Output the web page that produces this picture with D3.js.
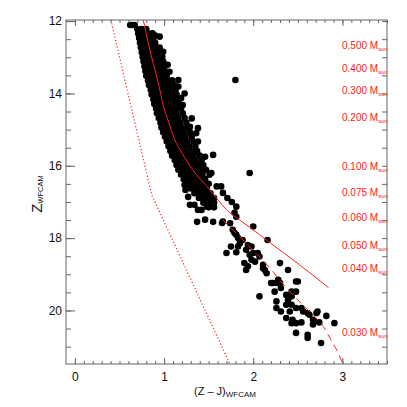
<!DOCTYPE html>
<html>
<head>
<meta charset="utf-8">
<script src="https://cdn.jsdelivr.net/npm/d3@7"></script>
<style>
body { margin: 0; background: #fff; }
svg { display: block; font-family: "Liberation Sans", Arial, sans-serif; }
</style>
</head>
<body>
<svg id="chart" width="407" height="407"></svg>
<script>
// dense part of the sequence, one row per Z: [Z, [Z-J ...]]
var bandRows = [
    [12.22, [0.70, 0.75, 0.80]],
    [12.34, [0.71, 0.76, 0.82, 0.87]],
    [12.47, [0.72, 0.78, 0.83, 0.88]],
    [12.60, [0.73, 0.79, 0.84, 0.90]],
    [12.73, [0.74, 0.80, 0.85, 0.91, 0.95]],
    [12.86, [0.75, 0.81, 0.86, 0.92]],
    [12.99, [0.76, 0.82, 0.87, 0.93, 0.98]],
    [13.12, [0.77, 0.83, 0.88, 0.94, 0.99]],
    [13.25, [0.78, 0.84, 0.89, 0.95, 1.00]],
    [13.38, [0.79, 0.85, 0.90, 0.96, 1.01]],
    [13.51, [0.80, 0.86, 0.91, 0.97, 1.03]],
    [13.64, [0.82, 0.87, 0.93, 0.98, 1.04, 1.09]],
    [13.77, [0.83, 0.89, 0.94, 1.00, 1.05, 1.11]],
    [13.90, [0.85, 0.90, 0.96, 1.01, 1.07, 1.13]],
    [14.03, [0.86, 0.92, 0.97, 1.03, 1.08, 1.14]],
    [14.16, [0.88, 0.93, 0.99, 1.04, 1.10, 1.15]],
    [14.29, [0.89, 0.95, 1.00, 1.06, 1.11, 1.17]],
    [14.42, [0.91, 0.96, 1.02, 1.07, 1.13, 1.19]],
    [14.55, [0.92, 0.98, 1.03, 1.09, 1.14, 1.21]],
    [14.68, [0.94, 0.99, 1.05, 1.10, 1.16, 1.23]],
    [14.81, [0.96, 1.01, 1.07, 1.12, 1.18, 1.25]],
    [14.94, [0.97, 1.03, 1.08, 1.14, 1.20, 1.27]],
    [15.07, [0.99, 1.05, 1.10, 1.16, 1.22, 1.29]],
    [15.20, [1.01, 1.06, 1.12, 1.18, 1.24, 1.31]],
    [15.33, [1.03, 1.08, 1.14, 1.20, 1.26, 1.33]],
    [15.46, [1.05, 1.10, 1.16, 1.22, 1.28, 1.35]],
    [15.59, [1.07, 1.12, 1.18, 1.24, 1.30, 1.37]],
    [15.72, [1.09, 1.15, 1.21, 1.27, 1.33, 1.40]],
    [15.85, [1.12, 1.17, 1.23, 1.29, 1.35, 1.42]],
    [15.98, [1.14, 1.20, 1.26, 1.32, 1.38, 1.44]],
    [16.11, [1.16, 1.22, 1.28, 1.34, 1.40, 1.47]],
    [16.24, [1.19, 1.25, 1.31, 1.37, 1.43]],
    [16.37, [1.22, 1.28, 1.34, 1.40, 1.46]],
    [16.50, [1.26, 1.32, 1.38, 1.44, 1.50]],
    [16.63, [1.30, 1.36, 1.42, 1.48]],
    [16.76, [1.34, 1.40, 1.46, 1.52]],
    [16.89, [1.39, 1.45, 1.51, 1.56]],
    [17.02, [1.44, 1.50, 1.56]],
    [17.15, [1.50, 1.56]]
];

// single stars outside the dense band: [Z-J, Z]
var looseStars = [
    [0.62, 12.11], [0.64, 12.11], [0.67, 12.11],
    [0.90, 12.40], [0.95, 12.43], [0.99, 12.85], [1.04, 13.21], [1.06, 13.40],
    [1.16, 13.63], [1.16, 13.81], [1.19, 14.13], [1.21, 14.32], [1.23, 14.00],
    [1.31, 14.69], [1.29, 14.92], [1.38, 14.96], [1.36, 15.10], [1.38, 15.33],
    [1.34, 15.61], [1.46, 15.75], [1.55, 15.70], [1.32, 16.02],
    [1.80, 13.63], [1.96, 16.20],
    [1.23, 16.53], [1.24, 16.67], [1.27, 16.86], [1.29, 17.08], [1.34, 17.08],
    [1.38, 17.22], [1.42, 17.22], [1.48, 17.13], [1.37, 17.55], [1.46, 17.49],
    [1.55, 17.55], [1.65, 17.58], [1.59, 16.57], [1.64, 16.57], [1.66, 16.75],
    [1.71, 16.89], [1.76, 17.00], [1.81, 17.13], [1.79, 17.30], [1.81, 17.41],
    [1.46, 16.11], [1.51, 16.25], [1.53, 16.20], [1.35, 16.44], [1.40, 16.55],
    [1.66, 17.54], [1.74, 17.59], [1.77, 17.77], [1.79, 17.86], [1.81, 17.91],
    [1.83, 18.00], [1.85, 18.14], [1.88, 18.05], [1.75, 18.23], [1.70, 18.41],
    [1.81, 18.39], [1.83, 18.23], [1.94, 18.19], [1.92, 18.32], [1.98, 18.23],
    [1.96, 18.46], [2.00, 18.41], [2.05, 18.41], [2.07, 18.51], [1.98, 18.60],
    [2.02, 18.65], [1.90, 18.69], [1.94, 18.78], [1.92, 18.88], [2.11, 18.74],
    [2.11, 18.83], [2.13, 18.88], [2.15, 18.97], [2.00, 17.68], [2.16, 18.05],
    [2.30, 18.69], [2.39, 18.88], [2.22, 19.24], [2.26, 19.24], [2.28, 19.15],
    [2.24, 19.48], [2.31, 19.38], [2.37, 19.57], [2.43, 19.48], [2.48, 19.48],
    [2.48, 19.20], [2.07, 19.61],
    [2.20, 19.24], [2.30, 19.24], [2.50, 19.20], [2.39, 19.71], [2.43, 19.61],
    [2.26, 19.75], [2.26, 19.93], [2.31, 20.03], [2.37, 19.84], [2.43, 19.84],
    [2.41, 20.03], [2.48, 19.93], [2.54, 19.93], [2.56, 20.03], [2.61, 20.07],
    [2.63, 20.12], [2.71, 20.07], [2.72, 20.03], [2.82, 20.15], [2.37, 20.21],
    [2.44, 20.26], [2.43, 20.35], [2.48, 20.35], [2.54, 20.33], [2.67, 20.26],
    [2.69, 20.30], [2.67, 20.39], [2.74, 20.33], [2.91, 20.35], [2.48, 20.62],
    [2.61, 20.67], [2.61, 20.76], [2.76, 20.90]
];

// model isochrones: [Z-J, Z]
var isoSolid = [
    [0.761, 11.90], [0.840, 12.80], [0.918, 13.54], [0.952, 13.90], [0.997, 14.40],
    [1.042, 14.73], [1.120, 15.28], [1.198, 15.64], [1.321, 16.11], [1.512, 16.66],
    [1.702, 17.22], [1.848, 17.50], [1.960, 17.70], [2.184, 18.12], [2.520, 18.74],
    [2.844, 19.37]
];
var isoDashed = [
    [1.657, 17.49], [1.960, 18.24], [2.184, 18.82], [2.352, 19.32], [2.520, 19.76],
    [2.654, 20.09], [2.788, 20.45], [2.878, 20.84], [2.945, 21.14], [3.001, 21.45]
];
var isoDotted = [[0.403, 11.97], [0.862, 16.81], [1.736, 21.47]];

var massLabels = ['0.500', '0.400', '0.300', '0.200', '0.100', '0.075', '0.060', '0.050', '0.040', '0.030'];
var massZ = [12.78, 13.41, 14.02, 14.75, 16.11, 16.83, 17.54, 18.30, 18.93, 20.70];

var xMajor = [0, 1, 2, 3];
var yMajor = [12, 14, 16, 18, 20];

var svg = d3.select('#chart'),
    x = d3.scaleLinear().domain([-0.1, 3.5]).range([66, 387]),
    y = d3.scaleLinear().domain([11.97, 21.48]).range([20, 364]),
    axisColor = '#666',
    red = '#ff2020';

svg.append('defs').append('clipPath').attr('id', 'plotclip')
    .append('rect')
    .attr('x', 66).attr('y', 20).attr('width', 321).attr('height', 344);

var plot = svg.append('g').attr('clip-path', 'url(#plotclip)');

var stars = [];
bandRows.forEach(function(row) {
    row[1].forEach(function(c) { stars.push([c, row[0]]); });
});
stars = stars.concat(looseStars);

plot.selectAll('circle.star')
    .data(stars)
    .enter().append('circle')
    .attr('class', 'star')
    .attr('cx', function(d) { return x(d[0]); })
    .attr('cy', function(d) { return y(d[1]); })
    .attr('r', 3.3)
    .attr('fill', '#000');

var line = d3.line()
    .x(function(d) { return x(d[0]); })
    .y(function(d) { return y(d[1]); });
var smooth = d3.line().curve(d3.curveMonotoneX)
    .x(function(d) { return x(d[0]); })
    .y(function(d) { return y(d[1]); });

plot.append('path').attr('d', smooth(isoSolid))
    .attr('fill', 'none').attr('stroke', red).attr('stroke-width', 1);
plot.append('path').attr('d', smooth(isoDashed))
    .attr('fill', 'none').attr('stroke', red).attr('stroke-width', 1)
    .attr('stroke-dasharray', '7,5');
plot.append('path').attr('d', line(isoDotted))
    .attr('fill', 'none').attr('stroke', red).attr('stroke-width', 1.2)
    .attr('stroke-dasharray', '1.2,2.2');

// axes: major + minor ticks on all four sides, pointing inward
function styleAxis(g) {
    g.select('.domain').remove();
    g.selectAll('line').attr('stroke', axisColor);
    g.selectAll('text').attr('fill', '#111').attr('font-size', 12)
        .attr('font-family', '"Liberation Sans", Arial, sans-serif');
}
var xMinor = d3.range(0, 3.51, 0.1),
    yMinor = d3.range(12, 21.49, 0.5);

svg.append('g').attr('transform', 'translate(0,364)')
    .call(d3.axisBottom(x).tickValues(xMinor).tickSize(-3).tickFormat(''))
    .call(styleAxis);
svg.append('g').attr('transform', 'translate(0,364)')
    .call(d3.axisBottom(x).tickValues(xMajor).tickSize(-6).tickPadding(8).tickFormat(d3.format('d')))
    .call(styleAxis);
svg.append('g').attr('transform', 'translate(0,20)')
    .call(d3.axisTop(x).tickValues(xMinor).tickSize(-3).tickFormat(''))
    .call(styleAxis);
svg.append('g').attr('transform', 'translate(0,20)')
    .call(d3.axisTop(x).tickValues(xMajor).tickSize(-6).tickFormat(''))
    .call(styleAxis);

svg.append('g').attr('transform', 'translate(66,0)')
    .call(d3.axisLeft(y).tickValues(yMinor).tickSize(-5).tickFormat(''))
    .call(styleAxis);
svg.append('g').attr('transform', 'translate(66,0)')
    .call(d3.axisLeft(y).tickValues(yMajor).tickSize(-9).tickPadding(4).tickFormat(d3.format('d')))
    .call(styleAxis);
svg.append('g').attr('transform', 'translate(387,0)')
    .call(d3.axisRight(y).tickValues(yMinor).tickSize(-5).tickFormat(''))
    .call(styleAxis);

svg.append('rect')
    .attr('x', 66).attr('y', 20).attr('width', 321).attr('height', 344)
    .attr('fill', 'none').attr('stroke', axisColor).attr('stroke-width', 1);

// mass labels
var ml = svg.append('g').attr('fill', red).attr('font-size', 10);
massLabels.forEach(function(m, i) {
    var t = ml.append('text').attr('x', 342).attr('y', y(massZ[i]));
    t.append('tspan').text(m + ' M');
    t.append('tspan').attr('font-size', 6).attr('dy', 2).text('sun');
});

// axis titles
var xt = svg.append('text').attr('x', 225).attr('y', 395)
    .attr('text-anchor', 'middle').attr('fill', '#111').attr('font-size', 11);
xt.append('tspan').text('(Z \u2013 J)');
xt.append('tspan').attr('font-size', 8).attr('dy', 2).text('WFCAM');

var yt = svg.append('text').attr('transform', 'translate(42,194) rotate(-90)')
    .attr('text-anchor', 'middle').attr('fill', '#111').attr('font-size', 15);
yt.append('tspan').text('Z');
yt.append('tspan').attr('font-size', 7.5).attr('dy', 1).text('WFCAM');
</script>
</body>
</html>
